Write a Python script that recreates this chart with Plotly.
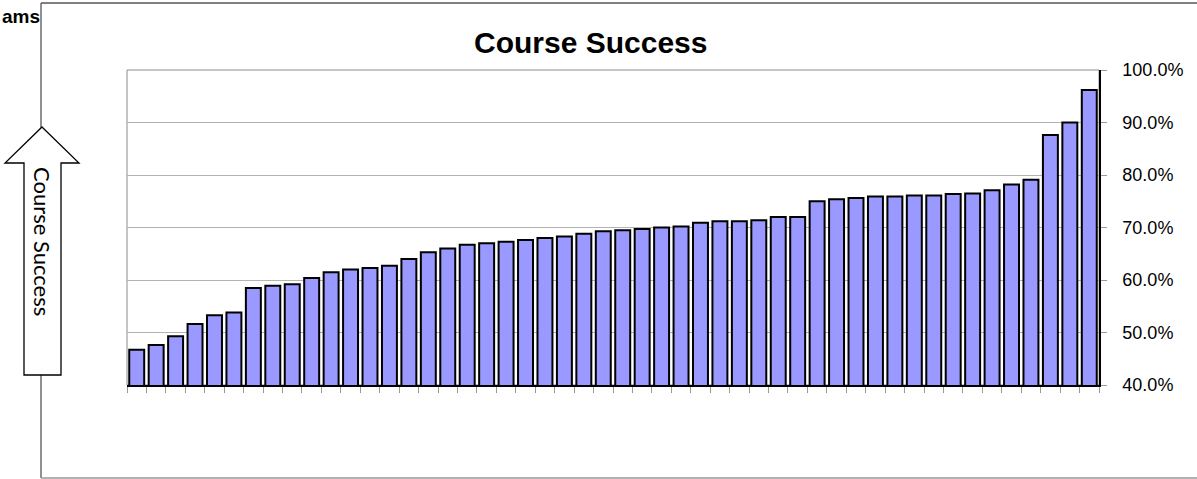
import plotly.graph_objects as go

# ---- data ----
courses = [str(i) for i in range(1, 51)]
success = [46.7, 47.6, 49.3, 51.6, 53.3, 53.8, 58.5, 58.9, 59.2, 60.4,
           61.5, 62.0, 62.3, 62.7, 64.0, 65.3, 66.0, 66.7, 67.0, 67.3,
           67.6, 68.0, 68.3, 68.8, 69.3, 69.5, 69.7, 70.0, 70.2, 70.9,
           71.2, 71.2, 71.4, 72.0, 72.0, 75.0, 75.4, 75.6, 75.9, 75.9,
           76.1, 76.1, 76.4, 76.5, 77.1, 78.2, 79.1, 87.6, 90.0, 96.2]
title_text = "Course Success"
axis_label = "Course Success"
corner_text = "ams"

W, H = 1197, 479
L, R, T, B = 127, 1099, 70, 385


def px(x):
    return (x - L) / (R - L)


def py(y):
    return (B - y) / (B - T)


fig = go.Figure()
fig.add_trace(go.Bar(
    x=courses, y=[v / 100 for v in success],
    marker=dict(color="#9999FF", line=dict(color="black", width=2)),
    hoverinfo="skip",
))

shapes = []
# plot-area border (gray)
shapes.append(dict(type="rect", xref="paper", yref="paper", x0=0, x1=1, y0=0, y1=1,
                   line=dict(color="#8c8c8c", width=1), layer="below"))
# outer frame
shapes.append(dict(type="line", xref="paper", yref="paper", x0=px(41), x1=px(1205),
                   y0=py(3), y1=py(3), line=dict(color="#555555", width=1.3)))
shapes.append(dict(type="line", xref="paper", yref="paper", x0=px(41), x1=px(41),
                   y0=py(3), y1=py(478), line=dict(color="#555555", width=1.3)))
shapes.append(dict(type="line", xref="paper", yref="paper", x0=px(41), x1=px(1205),
                   y0=py(478), y1=py(478), line=dict(color="#999999", width=1.3)))
# block arrow
pts = [(42, 127), (79, 163), (61, 163), (61, 375), (24, 375), (24, 163), (5, 163)]
path = "M " + " L ".join(f"{px(a):.5f},{py(b):.5f}" for a, b in pts) + " Z"
shapes.append(dict(type="path", xref="paper", yref="paper", path=path,
                   fillcolor="white", line=dict(color="black", width=1.3)))

annotations = [
    dict(text="<b>" + title_text + "</b>", xref="paper", yref="paper",
         x=px(590), y=py(42), xanchor="center", yanchor="middle", showarrow=False,
         font=dict(family="Liberation Sans, Arial", size=30, color="black")),
    dict(text=axis_label, xref="paper", yref="paper", x=px(43), y=py(241),
         xanchor="center", yanchor="middle", showarrow=False, textangle=90,
         font=dict(family="Lato, Open Sans", size=22, color="black")),
    dict(text="<b>" + corner_text + "</b>", xref="paper", yref="paper", x=px(42), y=py(17),
         xanchor="right", yanchor="middle", showarrow=False,
         font=dict(family="Liberation Sans, Arial", size=19, color="black")),
]

fig.update_layout(
    width=W, height=H,
    margin=dict(l=L, r=W - R, t=T, b=H - B, pad=0),
    paper_bgcolor="white", plot_bgcolor="white",
    showlegend=False, bargap=0.23,
    shapes=shapes, annotations=annotations,
    xaxis=dict(type="category", showticklabels=False, tickson="boundaries",
               ticks="outside", ticklen=6, tickcolor="#999999",
               showline=True, linecolor="black", linewidth=1.5,
               showgrid=False, zeroline=False, fixedrange=True),
    yaxis=dict(side="right", range=[0.4, 1.0], dtick=0.1, tick0=0.4,
               tickformat=".1%", ticks="outside", ticklen=6, tickcolor="#999999",
               showline=True, linecolor="black", linewidth=1.5,
               showgrid=True, gridcolor="#b3b3b3", gridwidth=1, zeroline=False,
               ticklabelstandoff=12,
               tickfont=dict(family="Liberation Sans, Arial", size=18, color="black")),
)

fig.write_html("out.html", config={"displayModeBar": False},
               post_script="document.body.style.margin='0';")
